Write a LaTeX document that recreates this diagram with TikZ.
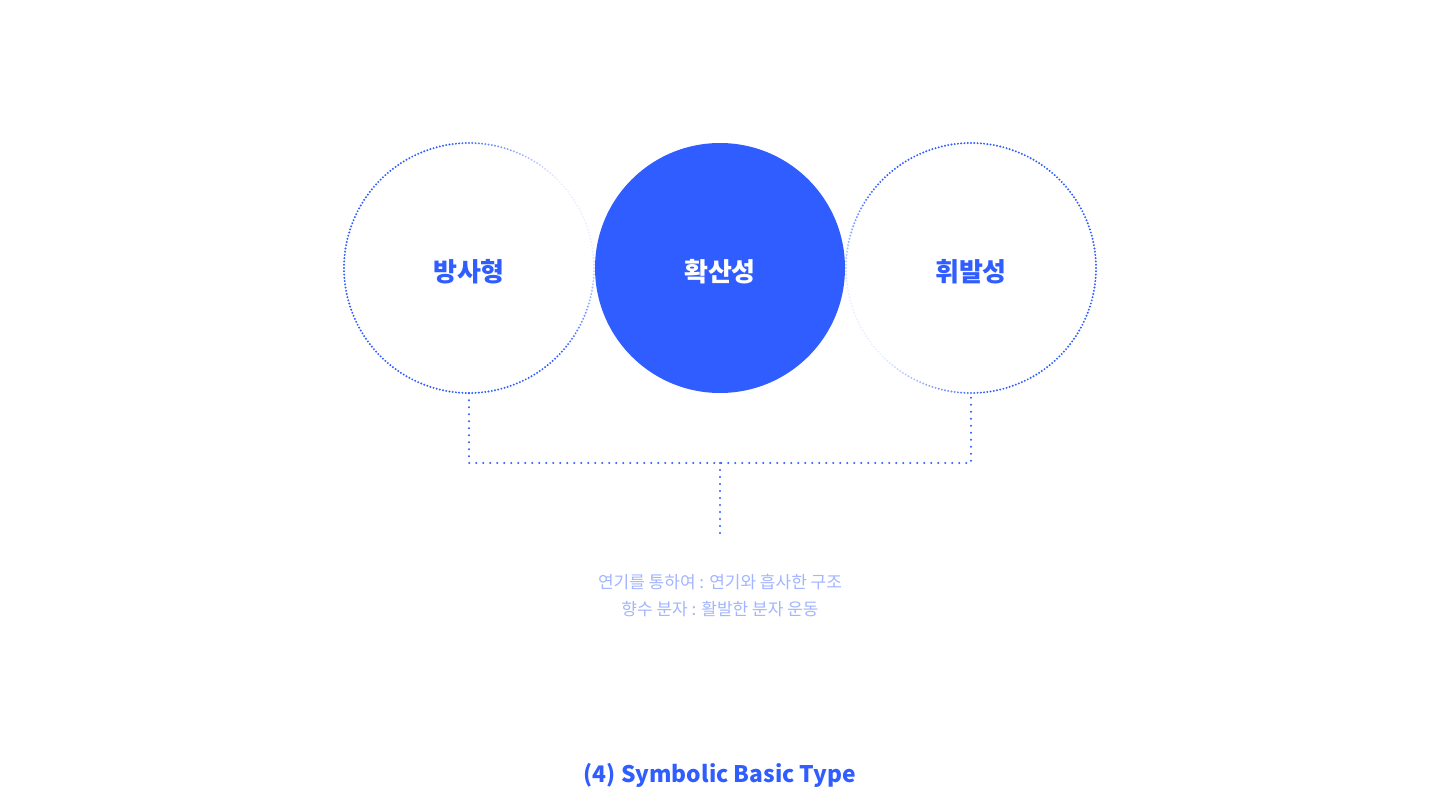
\documentclass[tikz,border=0pt]{standalone}
\usepackage{fontspec}
\newfontfamily\kr{Noto Sans CJK KR}
\definecolor{mainblue}{HTML}{305DFF}
\definecolor{lightblue}{HTML}{A2B5FF}
\usetikzlibrary{calc}
\tikzset{
  bubble/.style={circle, minimum size=250pt, inner sep=0pt},
  fullbubble/.style={bubble, fill=mainblue},
  bubbletext/.style={font=\kr\bfseries\fontsize{26}{30}\selectfont, text=mainblue},
  whitetext/.style={bubbletext, text=white},
  dotline/.style={draw=mainblue, line width=2.3pt, line cap=round, dash pattern=on 0pt off 7pt},
  note/.style={font=\kr\fontsize{17}{20}\selectfont, text=lightblue, align=center},
  titletext/.style={font=\kr\bfseries\fontsize{22.8}{26}\selectfont, text=mainblue}
}
\newcommand{\dotring}[2]{%
  \foreach \a in {0,1.5,...,358.5}{%
    \pgfmathsetmacro{\d}{abs(mod(\a-#2+540,360)-180)}%
    \pgfmathsetmacro{\op}{0.1+0.9*min(1,max(0,(\d-18)/52))}%
    \fill[mainblue, opacity=\op] ($(#1.center)+(\a:125pt)$) circle (1.1pt);
  }%
}
\begin{document}
\begin{tikzpicture}[x=1pt,y=-1pt]
\useasboundingbox (0,0) rectangle (1440,800);
\node[bubble] (L) at (469,268) {};
\node[fullbubble] (C) at (720,268) {};
\node[bubble] (R) at (971,268) {};
\node[bubbletext] (Lt) at ($(L.center)+(0,4)$) {방사형};
\node[whitetext] (Ct) at ($(C.center)+(0,4)$) {확산성};
\node[bubbletext] (Rt) at ($(R.center)+(0,4)$) {휘발성};
\dotring{L}{27}
\dotring{R}{207}
\coordinate (J) at (720,463);
\coordinate (E) at (720,535);
\draw[dotline] (L.south) |- (J) -| (R.south);
\draw[dotline] (J) -- (E);
\node[note] (N) at (720,596) {연기를 통하여 : 연기와 흡사한 구조\\[7pt]향수 분자 : 활발한 분자 운동};
\node[titletext] (T) at (720,775) {(4) Symbolic Basic Type};
\end{tikzpicture}
\end{document}
